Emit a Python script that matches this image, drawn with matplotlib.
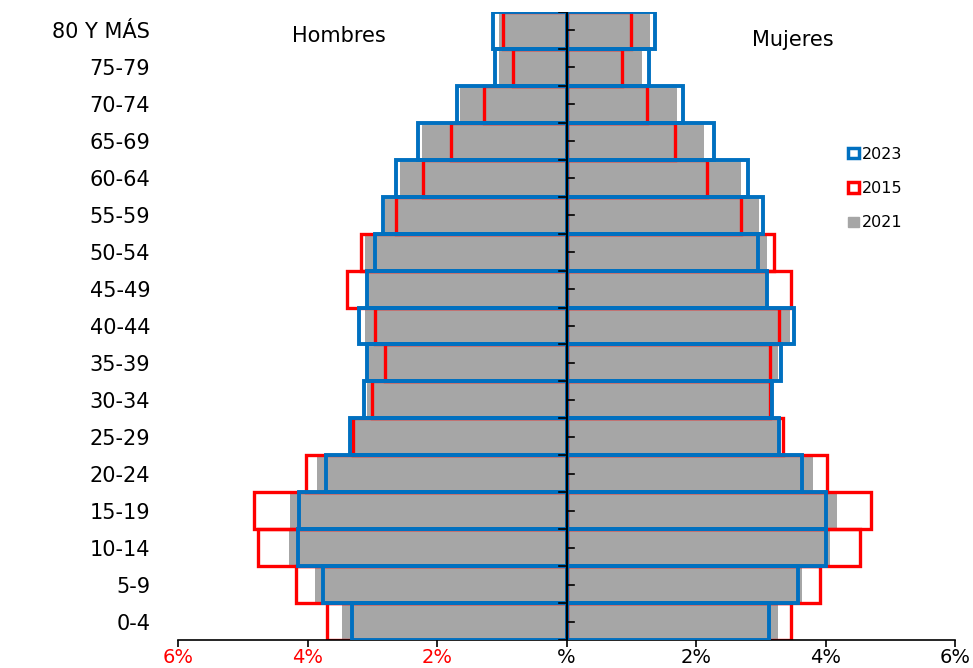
import numpy as np
import matplotlib.pyplot as plt
from matplotlib.patches import Patch

# grupos de edad, de abajo hacia arriba
grupos = ["0-4", "5-9", "10-14", "15-19", "20-24", "25-29", "30-34", "35-39",
          "40-44", "45-49", "50-54", "55-59", "60-64", "65-69", "70-74",
          "75-79", "80 Y MÁS"]

# porcentajes (%), mismo orden que grupos
hombres_2023 = [3.32, 3.76, 4.15, 4.13, 3.71, 3.35, 3.13, 3.08, 3.21, 3.08,
                2.95, 2.83, 2.64, 2.30, 1.69, 1.10, 1.13]
hombres_2015 = [3.70, 4.18, 4.77, 4.82, 4.03, 3.30, 3.00, 2.81, 2.95, 3.39,
                3.18, 2.64, 2.21, 1.78, 1.28, 0.83, 0.98]
hombres_2021 = [3.47, 3.88, 4.29, 4.27, 3.85, 3.33, 3.08, 3.06, 3.11, 3.06,
                3.11, 2.80, 2.57, 2.23, 1.64, 1.05, 1.05]

mujeres_2023 = [3.13, 3.58, 4.00, 4.01, 3.64, 3.28, 3.18, 3.31, 3.51, 3.10,
                2.96, 3.03, 2.80, 2.28, 1.80, 1.27, 1.36]
mujeres_2015 = [3.46, 3.91, 4.53, 4.70, 4.03, 3.35, 3.14, 3.15, 3.28, 3.47,
                3.21, 2.69, 2.17, 1.68, 1.25, 0.86, 1.00]
mujeres_2021 = [3.26, 3.64, 4.07, 4.17, 3.80, 3.30, 3.15, 3.26, 3.45, 3.08,
                3.10, 2.98, 2.69, 2.12, 1.71, 1.17, 1.29]

xticks = [-6, -4, -2, 0, 2, 4, 6]
xlabels = ["6%", "4%", "2%", "%", "2%", "4%", "6%"]

AZUL = "#0070c0"
ROJO = "#ff0000"
GRIS = "#a6a6a6"

plt.rcParams['font.family'] = ['DejaVu Sans']

fig = plt.figure(figsize=(9.73, 6.68), dpi=100)
ax = fig.add_axes([178 / 973, 28 / 668, 777 / 973, 628 / 668])

y = np.arange(len(grupos))
h21 = -np.array(hombres_2021)
h15 = -np.array(hombres_2015)
h23 = -np.array(hombres_2023)

"2021: barras grises rellenas"
ax.barh(y, h21, height=1.0, color=GRIS, zorder=1)
ax.barh(y, mujeres_2021, height=1.0, color=GRIS, zorder=1)

"2015: solo contorno rojo"
ax.barh(y, h15, height=1.0, fill=False, edgecolor=ROJO, linewidth=2.4, zorder=2)
ax.barh(y, mujeres_2015, height=1.0, fill=False, edgecolor=ROJO, linewidth=2.4, zorder=2)

"2023: contorno azul encima"
ax.barh(y, h23, height=1.0, fill=False, edgecolor=AZUL, linewidth=2.8, zorder=3)
ax.barh(y, mujeres_2023, height=1.0, fill=False, edgecolor=AZUL, linewidth=2.8, zorder=3)

ax.set_xlim(-6, 6)
ax.set_ylim(-0.5, len(grupos) - 0.5)

ax.spines['left'].set_color('none')
ax.spines['right'].set_color('none')
ax.spines['top'].set_color('none')
ax.spines['bottom'].set_linewidth(1.2)

ax.set_xticks(xticks)
ax.set_xticklabels(xlabels, fontsize=14)
for i, lab in enumerate(ax.get_xticklabels()):
    if xticks[i] < 0:
        lab.set_color(ROJO)
ax.tick_params(axis='x', length=5, width=1.2, pad=1)

ax.set_yticks(y)
ax.set_yticklabels(grupos, fontsize=15)
ax.tick_params(axis='y', length=0, pad=20)

"eje central"
ax.axvline(0, color='black', linewidth=1.6, zorder=4)
for b in np.arange(-0.5, len(grupos), 1.0):
    ax.plot([-0.12, 0], [b, b], color='black', linewidth=1.2, zorder=4)
for c in y:
    ax.plot([0, 0.12], [c, c], color='black', linewidth=1.2, zorder=4)

ax.text(-3.52, 15.85, "Hombres", fontsize=15, ha='center', va='center')
ax.text(3.49, 15.74, "Mujeres", fontsize=15, ha='center', va='center')

handles = [Patch(facecolor='white', edgecolor=AZUL, linewidth=2.5),
           Patch(facecolor='white', edgecolor=ROJO, linewidth=2.5),
           Patch(facecolor=GRIS, edgecolor=GRIS, linewidth=1)]
ax.legend(handles, ["2023", "2015", "2021"], loc='upper left',
          bbox_to_anchor=(840 / 973, (668 - 139) / 668),
          bbox_transform=fig.transFigure, frameon=False, fontsize=11.5,
          handlelength=0.7, handleheight=0.6, handletextpad=0.2,
          labelspacing=1.2, borderpad=0)

fig.savefig("out.png", dpi=100)
